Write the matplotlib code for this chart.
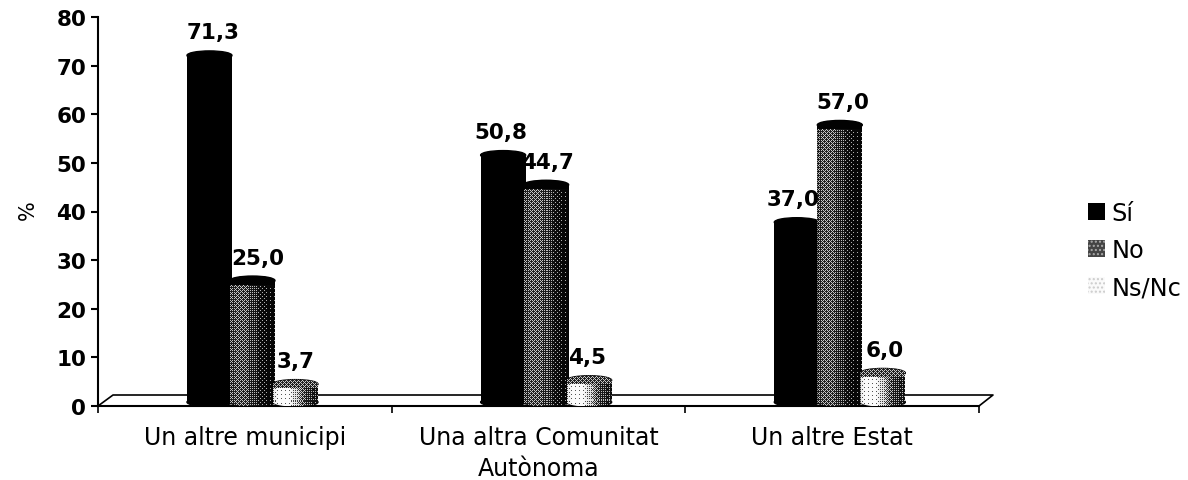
import numpy as np
import matplotlib
matplotlib.use('Agg')
import matplotlib.pyplot as plt
from matplotlib.patches import Ellipse, Patch
from matplotlib.path import Path

categories = ['Un altre municipi', 'Una altra Comunitat\nAutònoma', 'Un altre Estat']
si = [71.3, 50.8, 37.0]
no = [25.0, 44.7, 57.0]
nsnc = [3.7, 4.5, 6.0]
series_names = ['Sí', 'No', 'Ns/Nc']
y_ticks = [0, 10, 20, 30, 40, 50, 60, 70, 80]

W, H = 1188, 481
PX_X = 881 / 3      # px per x unit
PX_Y = 389 / 80     # px per y unit
BASE = 0.8          # cylinders stand on the floor, a bit above y=0
ELL_H = 9 / PX_Y
BAR_W = 45 / PX_X
STEP = 43 / PX_X
GROUP_X = 0.526

# ordered dither, looks like the scanned halftone
bayer = np.array([[0, 8, 2, 10], [12, 4, 14, 6], [3, 11, 1, 9], [15, 7, 13, 5]]) / 16 + 1 / 32


def dither(shade):
    h, w = shade.shape
    tile = np.tile(bayer, (h // 4 + 1, w // 4 + 1))[:h, :w]
    # mix with the plain shade so it is softer, like a scan
    return 0.65 * (shade > tile) + 0.35 * shade


def cylinder(ax, x, val, shade_l, shade_r, shade_top, z):
    top = BASE + val
    rect = ax.bar(x, val, BAR_W, bottom=BASE, color='#000000', zorder=z)[0]
    e_top = Ellipse((x, top), BAR_W, ELL_H, color='#000000', zorder=z)
    e_bot = Ellipse((x, BASE), BAR_W, ELL_H, color='#000000', zorder=z)
    ax.add_patch(e_top)
    ax.add_patch(e_bot)
    if shade_l == 0:
        return
    # halftone body, clipped to the cylinder outline
    nx = int(BAR_W * PX_X)
    ny = int((val + ELL_H) * PX_Y) + 1
    t = np.linspace(0, 1, nx)
    grad = np.interp(t, [0, 0.1, 0.35, 0.75, 1], [shade_l * 0.8, shade_l, shade_l, shade_r, shade_r * 0.6])
    shade = np.tile(grad, (ny, 1))
    # top face, as seen from above
    top_rows = int(ELL_H * PX_Y)
    shade[:top_rows, :] = shade_top
    ext = (x - BAR_W / 2, x + BAR_W / 2, BASE - ELL_H / 2, top + ELL_H / 2)
    im = ax.imshow(dither(shade), cmap='gray', vmin=0, vmax=1, extent=ext,
                   aspect='auto', interpolation='nearest', zorder=z + 0.1)
    outline = Path.make_compound_path(
        rect.get_path().transformed(rect.get_patch_transform()),
        e_bot.get_path().transformed(e_bot.get_patch_transform()),
        e_top.get_path().transformed(e_top.get_patch_transform()))
    im.set_clip_path(outline, ax.transData)


fig = plt.figure(figsize=(W / 100, H / 100), dpi=100)
ax = fig.add_axes([98 / W, 1 - 407 / H, 881 / W, 389 / H])

styles = [(0, 0, 0), (0.36, 0.1, 0.03), (0.95, 0.28, 0.38)]
label_dx = [[4, 5, 0], [-2, 1, -2], [-4, 3, 2]]
for g in range(3):
    for s, vals in enumerate([si, no, nsnc]):
        x = GROUP_X + g + (s - 1) * STEP
        cylinder(ax, x, vals[g], *styles[s], 3 + s)
        ax.annotate(f'{vals[g]:.1f}'.replace('.', ','), (x, BASE + vals[g]),
                    xytext=(label_dx[g][s] * 0.72, 16.5), textcoords='offset points',
                    ha='center', va='center', fontsize=15.5, fontweight='bold', zorder=10)

# floor of the 3D chart
ax.plot([0, 15 / PX_X, 895 / PX_X, 881 / PX_X], [0, 11 / PX_Y, 11 / PX_Y, 0],
        color='black', lw=1.2, clip_on=False, zorder=1)

ax.set_xlim(0, 3)
ax.set_ylim(0, 80)
ax.set_xticks([0, 1, 2, 3])
ax.set_xticklabels([])
ax.set_xticks([0.5, 1.5, 2.5], categories, minor=True)
for lab in ax.get_xticklabels(minor=True):
    lab.set_linespacing(1.36)
ax.set_yticks(y_ticks)
ax.tick_params(axis='x', which='major', length=5, width=1.2)
ax.tick_params(axis='x', which='minor', length=0, labelsize=17, pad=14)
ax.tick_params(axis='y', length=5, width=1.5, labelsize=15.5)
for lab in ax.get_yticklabels():
    lab.set_fontweight('bold')
for side in ['top', 'right']:
    ax.spines[side].set_visible(False)
ax.spines['left'].set_linewidth(1.5)
ax.spines['bottom'].set_linewidth(1.5)

fig.text(28 / W, 1 - 210 / H, '%', rotation=90, ha='center', va='center', fontsize=15)

handles = [Patch(facecolor='#000000'),
           Patch(facecolor='#444444', hatch='....', edgecolor='#aaaaaa', lw=0),
           Patch(facecolor='#fafafa', hatch='....', edgecolor='#cccccc', lw=0)]
fig.legend(handles, series_names, loc='center left', bbox_to_anchor=(1076 / W, 1 - 251 / H),
           frameon=False, fontsize=17.3, handlelength=0.72, handleheight=0.72,
           handletextpad=0.26, labelspacing=0.55, borderpad=0)

fig.savefig('out.png', dpi=100)
